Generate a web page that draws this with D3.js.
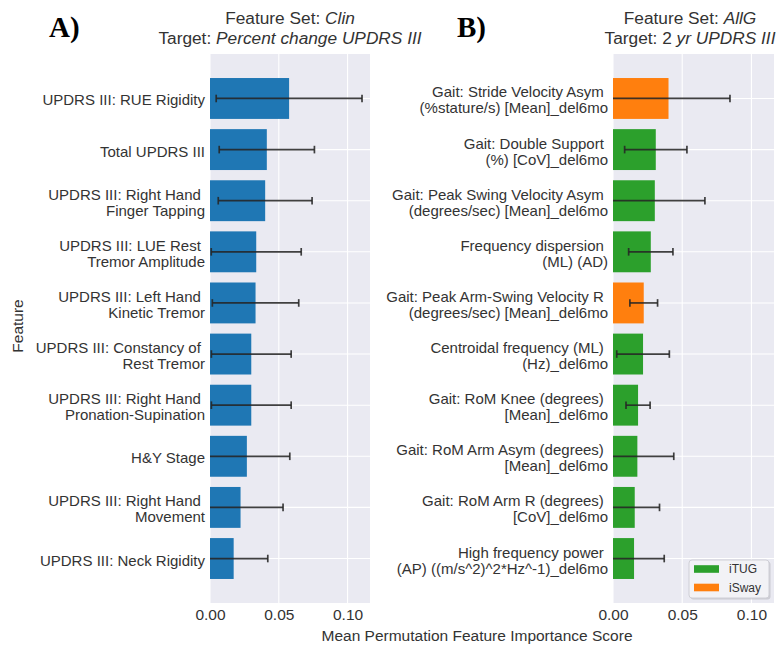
<!DOCTYPE html>
<html>
<head>
<meta charset="utf-8">
<script src="https://cdn.jsdelivr.net/npm/d3@7"></script>
<style>
  html, body { margin: 0; padding: 0; background: #fff; }
  svg text { font-family: "Liberation Sans", Arial, sans-serif; fill: #333; }
</style>
</head>
<body>
<svg id="fig" width="780" height="648"></svg>
<script>
// Panel A: clinical feature set, target = percent change in UPDRS III
const clinFeatures = [
  "UPDRS III: RUE Rigidity",
  "Total UPDRS III",
  "UPDRS III: Right Hand \nFinger Tapping",
  "UPDRS III: LUE Rest \nTremor Amplitude",
  "UPDRS III: Left Hand \nKinetic Tremor",
  "UPDRS III: Constancy of \nRest Tremor",
  "UPDRS III: Right Hand \nPronation-Supination",
  "H&Y Stage",
  "UPDRS III: Right Hand \nMovement",
  "UPDRS III: Neck Rigidity"
];
const clinMeans = [0.0575, 0.0413, 0.0401, 0.0336, 0.0331, 0.0300, 0.0300, 0.0268, 0.0222, 0.0172];
const clinErr   = [0.0530, 0.0346, 0.0341, 0.0327, 0.0314, 0.0290, 0.0290, 0.0312, 0.0309, 0.0248];

// Panel B: all gait/sway feature set, target = 2 yr UPDRS III
const allgFeatures = [
  "Gait: Stride Velocity Asym \n(%stature/s) [Mean]_del6mo",
  "Gait: Double Support \n(%) [CoV]_del6mo",
  "Gait: Peak Swing Velocity Asym \n(degrees/sec) [Mean]_del6mo",
  "Frequency dispersion \n(ML) (AD)",
  "Gait: Peak Arm-Swing Velocity R \n(degrees/sec) [Mean]_del6mo",
  "Centroidal frequency (ML) \n(Hz)_del6mo",
  "Gait: RoM Knee (degrees) \n[Mean]_del6mo",
  "Gait: RoM Arm Asym (degrees) \n[Mean]_del6mo",
  "Gait: RoM Arm R (degrees) \n[CoV]_del6mo",
  "High frequency power \n(AP) ((m/s^2)^2*Hz^-1)_del6mo"
];
const allgMeans = [0.0401, 0.0309, 0.0302, 0.0273, 0.0222, 0.0217, 0.0181, 0.0176, 0.0157, 0.0152];
const allgErr   = [0.0444, 0.0225, 0.0362, 0.0160, 0.0100, 0.0190, 0.0087, 0.0263, 0.0179, 0.0218];
const allgGroup = ["iSway", "iTUG", "iTUG", "iTUG", "iSway", "iTUG", "iTUG", "iTUG", "iTUG", "iTUG"];

const xTicks = [0.00, 0.05, 0.10];
const xMax = 0.1163;
const legendGroups = ["iTUG", "iSway"];
const groupColor = d3.scaleOrdinal().domain(["iTUG", "iSway"]).range(["#2ca02c", "#ff7f0e"]);
const clinColor = "#1f77b4";

const svg = d3.select("#fig");
const plotTop = 54, plotBottom = 603;

function drawPanel(opts) {
  const { x0, x1, features, means, errs, colors, letter, letterX, titleX, titleLine1, titleLine2, id } = opts;
  const x = d3.scaleLinear().domain([0, xMax]).range([x0, x1]);
  const y = d3.scaleBand().domain(features).range([plotTop, plotBottom])
    .paddingInner(0.2).paddingOuter(0.47);

  const g = svg.append("g");

  // background
  g.append("rect").attr("x", x0).attr("y", plotTop)
    .attr("width", x1 - x0).attr("height", plotBottom - plotTop).attr("fill", "#eaeaf2");

  // grid
  g.append("g").selectAll("line").data(xTicks).join("line")
    .attr("x1", d => x(d)).attr("x2", d => x(d))
    .attr("y1", plotTop).attr("y2", plotBottom)
    .attr("stroke", "#fff").attr("stroke-width", 1.1);
  g.append("g").selectAll("line").data(features).join("line")
    .attr("x1", x0).attr("x2", x1)
    .attr("y1", d => y(d) + y.bandwidth() / 2).attr("y2", d => y(d) + y.bandwidth() / 2)
    .attr("stroke", "#fff").attr("stroke-width", 1.1);

  // bars
  g.append("g").selectAll("rect").data(features).join("rect")
    .attr("x", x(0))
    .attr("y", d => y(d))
    .attr("width", (d, i) => x(means[i]) - x(0))
    .attr("height", y.bandwidth())
    .attr("fill", (d, i) => colors[i]);

  // error bars, clipped to the axes area
  const clipId = "clip-" + id;
  svg.append("clipPath").attr("id", clipId).append("rect")
    .attr("x", x0).attr("y", plotTop).attr("width", x1 - x0).attr("height", plotBottom - plotTop);
  const eb = g.append("g").attr("clip-path", `url(#${clipId})`)
    .attr("stroke", "#262626").attr("stroke-width", 1.7).attr("stroke-opacity", 0.88);
  features.forEach((f, i) => {
    const cy = y(f) + y.bandwidth() / 2;
    const lo = x(means[i] - errs[i]), hi = x(means[i] + errs[i]);
    eb.append("line").attr("x1", lo).attr("x2", hi).attr("y1", cy).attr("y2", cy);
    eb.append("line").attr("x1", lo).attr("x2", lo).attr("y1", cy - 3.8).attr("y2", cy + 3.8);
    eb.append("line").attr("x1", hi).attr("x2", hi).attr("y1", cy - 3.8).attr("y2", cy + 3.8);
  });

  // x tick labels
  const xAxis = d3.axisBottom(x).tickValues(xTicks).tickFormat(d3.format(".2f")).tickSize(0).tickPadding(0);
  const ax = g.append("g").attr("transform", `translate(0,${plotBottom})`).call(xAxis);
  ax.select(".domain").remove();
  ax.selectAll("text").attr("y", 17).attr("dy", 0)
    .style("font-size", "15.5px").style("font-family", '"Liberation Sans", Arial, sans-serif')
    .attr("fill", "#333");

  // y category labels, right aligned, multi-line
  const lineH = 16;
  const lbl = g.append("g");
  features.forEach(f => {
    const lines = f.split("\n");
    const cy = y(f) + y.bandwidth() / 2;
    const t = lbl.append("text")
      .attr("text-anchor", "end")
      .style("font-size", "15px")
      .style("white-space", "pre");
    lines.forEach((ln, k) => {
      t.append("tspan")
        .attr("x", x0 - 5)
        .attr("y", cy + 7 + (k - (lines.length - 1) / 2) * lineH)
        .text(ln);
    });
  });

  // title
  const t1 = g.append("text").attr("x", titleX).attr("y", 24).attr("text-anchor", "middle").style("font-size", "17.3px");
  titleLine1.forEach(p => t1.append("tspan").style("font-style", p.it ? "italic" : "normal").text(p.s));
  const t2 = g.append("text").attr("x", titleX).attr("y", 44).attr("text-anchor", "middle").style("font-size", "17.3px");
  titleLine2.forEach(p => t2.append("tspan").style("font-style", p.it ? "italic" : "normal").text(p.s));

  // panel letter
  g.append("text").attr("x", letterX).attr("y", 37)
    .style("font-family", '"Liberation Serif", "Times New Roman", serif')
    .style("font-weight", "bold").style("font-size", "29px").style("fill", "#000")
    .text(letter);

  return { x, y };
}

drawPanel({
  id: "a", x0: 210, x1: 370,
  features: clinFeatures, means: clinMeans, errs: clinErr,
  colors: clinFeatures.map(() => clinColor),
  letter: "A)", letterX: 49, titleX: 290,
  titleLine1: [{ s: "Feature Set: " }, { s: "Clin", it: true }],
  titleLine2: [{ s: "Target: " }, { s: "Percent change UPDRS III", it: true }]
});

drawPanel({
  id: "b", x0: 613, x1: 774,
  features: allgFeatures, means: allgMeans, errs: allgErr,
  colors: allgGroup.map(k => groupColor(k)),
  letter: "B)", letterX: 457, titleX: 690,
  titleLine1: [{ s: "Feature Set: " }, { s: "AllG", it: true }],
  titleLine2: [{ s: "Target: 2 " }, { s: "yr UPDRS III", it: true }]
});

// shared axis titles
svg.append("text").attr("x", 477).attr("y", 641).attr("text-anchor", "middle")
  .style("font-size", "15.5px").text("Mean Permutation Feature Importance Score");
svg.append("text").attr("transform", "translate(23,326) rotate(-90)").attr("text-anchor", "middle")
  .style("font-size", "15.5px").text("Feature");

// legend for panel B
const lg = svg.append("g").attr("transform", "translate(689,560)");
lg.append("rect").attr("x", 1.5).attr("y", 1.5).attr("width", 80).attr("height", 38).attr("rx", 3)
  .attr("fill", "#b8b8c0").attr("opacity", 0.6);
lg.append("rect").attr("width", 80).attr("height", 38).attr("rx", 3)
  .attr("fill", "#f2f2f6").attr("stroke", "#cfcfd6").attr("stroke-width", 1);
legendGroups.forEach((k, i) => {
  const cy = 9 + i * 18.5;
  lg.append("rect").attr("x", 5).attr("y", cy - 3.8).attr("width", 25).attr("height", 7.6)
    .attr("fill", groupColor(k));
  lg.append("text").attr("x", 40).attr("y", cy + 4.3).style("font-size", "12px").text(k);
});
</script>
</body>
</html>
